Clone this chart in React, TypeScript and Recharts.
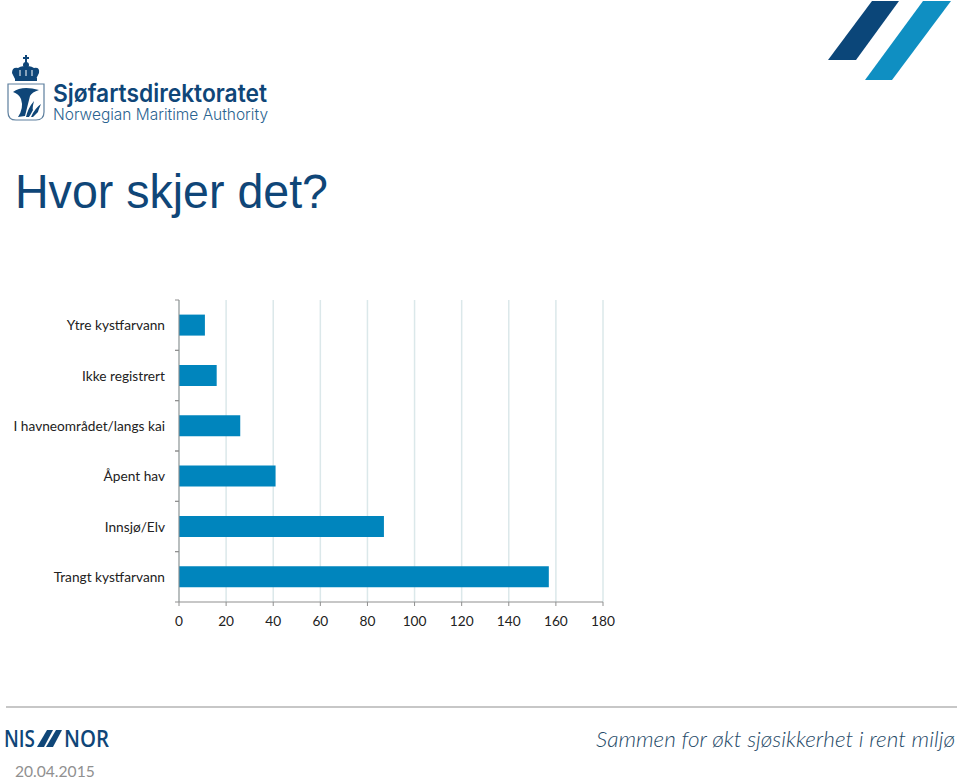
import { BarChart, Bar, XAxis, YAxis, CartesianGrid } from 'recharts'

const categories = [
  'Ytre kystfarvann',
  'Ikke registrert',
  'I havneområdet/langs kai',
  'Åpent hav',
  'Innsjø/Elv',
  'Trangt kystfarvann',
]
const counts = [11, 16, 26, 41, 87, 157]
const xTicks = [0, 20, 40, 60, 80, 100, 120, 140, 160, 180]

const chartData = categories.map((name, i) => ({ name, count: counts[i] }))

const BAND = 302 / 6
const AXIS = '#8f8f8f'
const NAVY = '#0f4678'
const LABEL_FONT = 'Lato, sans-serif'

// Excel style: the tick marks sit between the categories, the label in the middle
function CategoryTick({ x, y, payload }: any) {
  const axisX = x + 8
  return (
    <g>
      <line x1={axisX - 4} x2={axisX} y1={y - BAND / 2} y2={y - BAND / 2} stroke={AXIS} />
      <line x1={axisX - 4} x2={axisX} y1={y + BAND / 2} y2={y + BAND / 2} stroke={AXIS} />
      <text x={165} y={y + 5} textAnchor="end" fontSize={13.7} fontFamily={LABEL_FONT} fill="#222">
        {payload.value}
      </text>
    </g>
  )
}

function Header() {
  return (
    <svg width={960} height={780} style={{ position: 'absolute', left: 0, top: 0 }}>
      {/* corner stripes */}
      <polygon points="872,1 899,1 856,60 828,60" fill="#0b4679" />
      <polygon points="923,1 951,1 892,80 865,80" fill="#0f8fc2" />

      {/* crown */}
      <rect x={25} y={55} width={2} height={8} fill={NAVY} />
      <rect x={23} y={57} width={6} height={2} fill={NAVY} />
      <circle cx={26} cy={65} r={3} fill={NAVY} />
      <path d="M12 73 Q12 67 18 68 Q22 65 26 67 Q30 65 34 68 Q40 67 39 73 L36 79 H15 Z" fill={NAVY} />
      <line x1={20} x2={20} y1={70} y2={76} stroke="#fff" strokeWidth={1} />
      <line x1={26} x2={26} y1={70} y2={76} stroke="#fff" strokeWidth={1} />
      <line x1={32} x2={32} y1={70} y2={76} stroke="#fff" strokeWidth={1} />
      <rect x={15} y={78} width={22} height={3} fill={NAVY} />

      {/* shield */}
      <path d="M8 84 H44 V112 Q44 120 36 120 H16 Q8 120 8 112 Z" fill="#fff" stroke="#5d7f9e" strokeWidth={1.2} />
      <path d="M13 92 Q22 85 39 90 Q32 92 30 96 Q28 104 25 116 L18 117 Q24 108 21 99 Q19 94 13 92 Z" fill={NAVY} />
      <path d="M26 117 Q28 108 34 101 Q32 109 33 110 Q31 114 29 117 Z" fill={NAVY} />
      <path d="M31 117 Q35 108 41 104 Q38 111 38 112 Q35 115 33 117 Z" fill={NAVY} />

      <text x={53} y={102} fontSize={24.5} fontWeight={600} fontFamily="Inter, sans-serif" fill={NAVY} textLength={214} lengthAdjust="spacingAndGlyphs">
        Sjøfartsdirektoratet
      </text>
      <text x={53} y={120} fontSize={15.5} fontWeight={300} fontFamily="Inter, sans-serif" fill="#2a6390" textLength={215} lengthAdjust="spacingAndGlyphs">
        Norwegian Maritime Authority
      </text>

      <text x={15} y={208} fontSize={49} fontFamily="'Liberation Sans', Arial, sans-serif" fill={NAVY} textLength={313} lengthAdjust="spacingAndGlyphs">
        Hvor skjer det?
      </text>

      {/* footer */}
      <line x1={6} x2={957} y1={707} y2={707} stroke="#b4b4b4" strokeWidth={1.5} />
      <text x={4} y={747} fontSize={24} fontWeight={600} fontFamily="'Open Sans', sans-serif" fill={NAVY} textLength={31} lengthAdjust="spacingAndGlyphs">
        NIS
      </text>
      <polygon points="47,730 53,730 44,747 37,747" fill={NAVY} />
      <polygon points="56,730 62,730 53,747 46,747" fill={NAVY} />
      <text x={64} y={747} fontSize={24} fontWeight={600} fontFamily="'Open Sans', sans-serif" fill={NAVY} textLength={45} lengthAdjust="spacingAndGlyphs">
        NOR
      </text>
      <text x={596} y={747} fontSize={22} fontStyle="italic" fontWeight={300} fontFamily={LABEL_FONT} fill="#1f4a68" textLength={359} lengthAdjust="spacingAndGlyphs">
        Sammen for økt sjøsikkerhet i rent miljø
      </text>
      <text x={15} y={777} fontSize={15.6} fontFamily={LABEL_FONT} fill="#909090">
        20.04.2015
      </text>
    </svg>
  )
}

export default function App() {
  return (
    <div style={{ position: 'absolute', left: 0, top: 0, width: 960, height: 780, background: '#fff', overflow: 'hidden' }}>
      <Header />
      <div style={{ position: 'absolute', left: 0, top: 0 }}>
        <BarChart
          width={960}
          height={780}
          data={chartData}
          layout="vertical"
          barCategoryGap="29%"
          margin={{ top: 300, right: 357, bottom: 148, left: 0 }}
        >
          <CartesianGrid horizontal={false} stroke="#dbe8ea" strokeWidth={1.5} />
          <XAxis
            type="number"
            domain={[0, 180]}
            ticks={xTicks}
            interval={0}
            height={30}
            stroke={AXIS}
            tickSize={4}
            tick={{ fontSize: 13.7, fontFamily: LABEL_FONT, fill: '#222' }}
            tickMargin={10}
          />
          <YAxis
            type="category"
            dataKey="name"
            width={179}
            interval={0}
            stroke={AXIS}
            tickLine={false}
            tick={<CategoryTick />}
          />
          <Bar dataKey="count" fill="#0085bd" isAnimationActive={false} />
        </BarChart>
      </div>
    </div>
  )
}
